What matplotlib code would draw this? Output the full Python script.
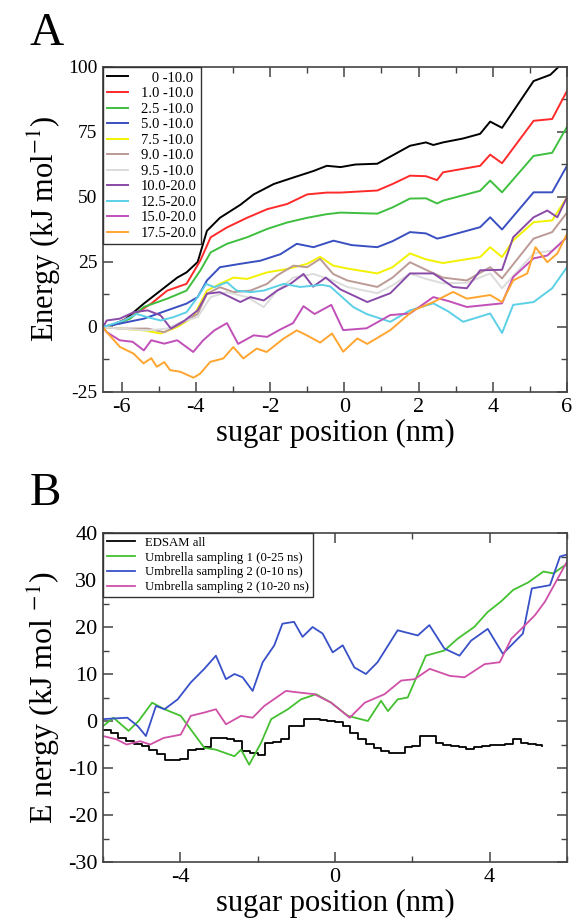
import matplotlib
matplotlib.use('Agg')
import matplotlib.pyplot as plt
from matplotlib.ticker import MultipleLocator

plt.rcParams['font.family'] = ['Liberation Serif', 'DejaVu Serif']
plt.rcParams['mathtext.fontset'] = 'stix'
plt.rcParams['axes.unicode_minus'] = False

# ---- panel A data (sugar position nm, energy kJ/mol) ----
labels_a = ['   0 -10.0', '1.0 -10.0', '2.5 -10.0', '5.0 -10.0', '7.5 -10.0', '9.0 -10.0',
            '9.5 -10.0', '10.0-20.0', '12.5-20.0', '15.0-20.0', '17.5-20.0']
colors_a = ['#000000', '#ff2a2a', '#3fbf3f', '#3a4fc0', '#f2f200', '#bc9a96',
            '#dcdcdc', '#8a4aa8', '#5cd0e6', '#c050b8', '#ffa530']

x_black = [-6.5, -6.2, -5.9, -5.77, -5.4, -4.95, -4.5, -4.25, -3.95, -3.7, -3.35, -2.8, -2.44, -1.9,
           -1.37, -0.83, -0.47, -0.1, 0.3, 0.89, 1.3, 1.77, 2.2, 2.4, 2.66, 3.2, 3.66, 3.93, 4.25,
           4.6, 5.1, 5.55, 5.74, 6.0]
e_black = [0, 1, 3, 4.5, 9, 14, 19, 21, 25, 37, 42, 47, 51, 55, 57.5, 60, 62, 61.5, 62.5, 62.8,
           66, 69.7, 71, 70, 71, 72.5, 74.3, 79, 76.6, 84, 94.6, 97, 99.6, 104]

x_red = [-6.5, -6.2, -5.77, -5.2, -4.77, -4.25, -3.88, -3.6, -3.16, -2.62, -2.08, -1.54, -1.0, -0.47,
         -0.1, 0.89, 1.3, 1.77, 2.2, 2.5, 2.66, 3.66, 3.93, 4.25, 5.1, 5.6, 6.0]
e_red = [0, 1, 3.8, 9, 14, 16.6, 25.5, 34.5, 38.3, 42, 45.3, 47.3, 51, 51.7, 51.7, 52.5, 55, 58.2,
         58, 56.5, 59.5, 62, 66.3, 63, 79.3, 80, 90.8]

x_green = [-6.5, -6.2, -5.77, -5.4, -4.77, -4.25, -3.88, -3.6, -3.16, -2.62, -2.08, -1.54, -1.0,
           -0.47, -0.1, 0.89, 1.3, 1.77, 2.2, 2.5, 2.66, 3.66, 3.93, 4.25, 5.1, 5.6, 6.0]
e_green = [0, 1, 3.2, 7.7, 10.9, 14, 21.7, 28.7, 32, 34.5, 37.7, 40.2, 42, 43.4, 44, 43.6, 46,
           49.4, 49.5, 47.5, 48.6, 52.4, 56.3, 51.8, 65.8, 67, 77]

x_blue = [-6.5, -6.05, -5.4, -4.77, -4.25, -3.95, -3.7, -3.35, -2.8, -2.26, -1.72, -1.28, -0.83,
          -0.29, 0.2, 0.89, 1.3, 1.77, 2.2, 2.5, 2.66, 3.66, 3.93, 4.25, 5.1, 5.6, 6.0]
e_blue = [0, 1.3, 3.2, 6.4, 9, 11.5, 17.9, 23, 24.3, 25.5, 28, 32, 30.7, 33.2, 31.5, 30.7, 33,
          36.5, 36, 34, 34.5, 38.4, 42.2, 37.5, 51.8, 51.8, 62]

x_yellow = [-6.5, -6.05, -5.4, -4.95, -4.5, -4.07, -3.7, -3.35, -2.98, -2.62, -2.08, -1.54, -1.0,
            -0.65, -0.3, 0.08, 0.89, 1.3, 1.77, 2.2, 2.66, 3.66, 3.93, 4.25, 4.55, 5.1, 5.6, 6.0]
e_yellow = [0, -0.6, -1.3, -2.5, 0, 3.8, 14, 16.6, 19, 18.5, 21, 22.3, 24.3, 27, 23.6, 22.5, 20.6,
            23, 28.3, 26, 24.6, 26.9, 30.7, 26.9, 33.3, 40.3, 41, 49.9]

x_brown = [-6.5, -6.05, -5.3, -4.85, -4.4, -3.95, -3.7, -3.35, -2.98, -2.53, -2.08, -1.81, -1.37,
           -1.0, -0.65, -0.3, 0.08, 0.89, 1.3, 1.77, 2.2, 2.66, 3.3, 3.93, 4.25, 5.1, 5.6, 6.0]
e_brown = [0, -0.6, -0.6, -2, 1.3, 5, 12.8, 15.3, 13.4, 14, 16.6, 19.8, 23.6, 23, 26.2, 20.4, 17.9,
           15.4, 19, 24.9, 22, 19, 17.9, 23, 18.7, 34, 36.5, 44]

x_gray = [-6.5, -6.05, -5.3, -4.77, -4.4, -3.95, -3.6, -3.16, -2.62, -2.17, -1.81, -1.37, -0.83,
          -0.3, 0.08, 0.89, 1.3, 1.77, 2.2, 2.66, 3.3, 3.93, 4.25, 5.1, 5.6, 6.0]
e_gray = [0, -0.6, -1.3, -0.6, 1.9, 3.8, 11.5, 13.4, 11.5, 7.7, 14, 19, 20.4, 17.9, 15.4, 13, 16,
          20.6, 18.5, 16.8, 17, 20.6, 14.9, 28.3, 29.4, 34.5]

x_purple = [-6.5, -6.4, -6.05, -5.67, -5.3, -4.95, -4.67, -4.3, -3.95, -3.7, -3.35, -3.07, -2.8,
            -2.53, -2.17, -1.81, -1.45, -1.1, -0.84, -0.5, -0.11, 0.62, 1.24, 1.77, 2.4, 2.93,
            3.3, 3.66, 4.25, 4.55, 5.1, 5.47, 5.74, 6.0]
e_purple = [0, 2.5, 3.2, 5.7, 6.4, 4.5, -0.6, 2.5, 6.4, 12.8, 13.4, 11.5, 9.6, 11.5, 10.2, 14,
            16.6, 20.4, 15.5, 19, 14.5, 9.6, 13, 20.6, 20.6, 15.4, 14.9, 21.8, 22, 34.5, 42.2,
            44.8, 42.2, 49.9]

x_cyan = [-6.5, -5.95, -5.6, -5.3, -4.95, -4.6, -4.25, -3.95, -3.72, -3.5, -3.16, -2.9, -2.53,
          -2.17, -1.63, -1.19, -0.6, -0.38, 0.24, 0.6, 1.24, 1.77, 2.4, 2.8, 3.2, 3.93, 4.25,
          4.55, 5.1, 5.6, 6.0]
e_cyan = [0, 2.5, 5, 3.8, 2.5, 3.8, 5.7, 11.5, 16.6, 15.3, 17.2, 14, 13.4, 14, 16.6, 15.4, 16.2,
          15.6, 7.7, 5, 2, 6.4, 9.1, 6, 2, 5.2, -2.3, 8.5, 9.6, 14.9, 23]

x_magenta = [-6.5, -6.4, -6.05, -5.7, -5.4, -5.2, -4.85, -4.5, -4.07, -3.8, -3.5, -3.16, -2.86,
             -2.44, -2.08, -1.73, -1.38, -1.1, -0.8, -0.35, -0.03, 0.6, 1.24, 1.77, 2.4, 2.8,
             3.3, 4.25, 4.55, 5.1, 5.47, 6.0]
e_magenta = [0, -2, -5.1, -5.7, -9, -5.1, -6.4, -5.1, -9.6, -5.1, -1.3, 1.5, -6.5, -3.2, -3.8,
             -1, 1.5, 8, 5, 8.5, -1.2, -0.5, 4.6, 5.2, 11.5, 10, 7.7, 9.1, 19.2, 26.4, 27.5, 34.5]

x_orange = [-6.5, -6.4, -6.04, -5.68, -5.41, -5.2, -5.05, -4.85, -4.69, -4.42, -4.06, -3.88,
            -3.61, -3.26, -2.99, -2.72, -2.36, -2.09, -1.64, -1.28, -1.01, -0.65, -0.33, -0.03,
            0.35, 0.62, 1.24, 1.86, 2.4, 2.93, 3.3, 3.93, 4.25, 4.55, 4.93, 5.15, 5.47, 5.74, 6.0]
e_orange = [0, -2, -7.7, -10.2, -14, -12, -15.3, -13.5, -16.6, -17.2, -19.5, -17.9, -13.4, -12.1,
            -7.7, -12.1, -8.3, -9.6, -4.5, -1.3, -3.2, -6, -2.5, -9.5, -4.4, -6.5, -1.2, 6.4, 9.6,
            13.5, 10.9, 12.3, 9.6, 17.9, 20.6, 30.7, 24.9, 28.3, 35.8]

xs_a = [x_black, x_red, x_green, x_blue, x_yellow, x_brown, x_gray, x_purple, x_cyan, x_magenta, x_orange]
es_a = [e_black, e_red, e_green, e_blue, e_yellow, e_brown, e_gray, e_purple, e_cyan, e_magenta, e_orange]

# ---- panel B data ----
labels_b = ['EDSAM all', 'Umbrella sampling 1 (0-25 ns)', 'Umbrella sampling 2 (0-10 ns)',
            'Umbrella sampling 2 (10-20 ns)']
colors_b = ['#000000', '#44c030', '#3850c8', '#d050a8']

x_edsam = [-6.0, -5.8, -5.6, -5.4, -5.2, -5.0, -4.8, -4.6, -4.4, -4.2, -4.0, -3.8, -3.6, -3.4,
           -3.2, -3.0, -2.8, -2.6, -2.4, -2.2, -2.0, -1.8, -1.6, -1.4, -1.2, -1.0, -0.8, -0.6,
           -0.4, -0.2, 0.0, 0.2, 0.4, 0.6, 0.8, 1.0, 1.2, 1.4, 1.6, 1.8, 2.0, 2.2, 2.4, 2.6, 2.8,
           3.0, 3.2, 3.4, 3.6, 3.8, 4.0, 4.2, 4.4, 4.6, 4.8, 5.0, 5.2, 5.35]
e_edsam = [-2.0, -2.6, -3.6, -4.3, -4.8, -5.4, -6.2, -7.0, -8.2, -8.2, -8.0, -6.2, -6.0, -5.6,
           -3.6, -3.7, -3.9, -4.2, -6.3, -6.8, -7.3, -4.6, -4.4, -3.9, -1.1, -1.1, 0.4, 0.4, 0.2,
           0.0, -0.3, -1.1, -2.6, -3.8, -4.8, -5.8, -6.4, -6.8, -6.8, -5.6, -5.4, -3.2, -3.2,
           -4.6, -5.0, -5.3, -5.6, -5.9, -5.6, -5.3, -5.1, -5.0, -4.8, -3.8, -4.6, -4.8, -5.1, -5.4]

x_us1 = [-6.0, -5.73, -5.34, -5.08, -4.73, -4.41, -3.99, -3.73, -3.38, -3.08, -2.6, -2.43, -2.22,
         -1.91, -1.65, -1.22, -0.88, -0.49, -0.1, 0.33, 0.85, 1.19, 1.37, 1.62, 1.88, 2.35, 2.83,
         3.17, 3.6, 3.95, 4.29, 4.61, 5.0, 5.39, 5.65, 5.9, 6.0]
e_us1 = [-1.1, 0.7, -2.1, 0, 3.9, 2.5, 1.1, -1.8, -5.7, -6.1, -7.5, -6.1, -9.3, -4.6, 0.4, 2.5,
         4.6, 5.7, 3.9, 1.1, 0, 4.3, 2.1, 4.6, 5, 13.9, 15, 17.5, 20, 23.2, 25.4, 27.9, 29.5,
         31.8, 31.4, 32.9, 33.2]

x_us2a = [-6.0, -5.37, -5.1, -4.89, -4.63, -4.41, -4.07, -3.73, -3.38, -3.08, -2.82, -2.6, -2.39,
          -2.13, -1.87, -1.57, -1.36, -1.06, -0.84, -0.58, -0.32, -0.06, 0.2, 0.5, 0.8, 1.1,
          1.62, 2.14, 2.44, 2.83, 3.22, 3.52, 3.95, 4.34, 4.86, 5.09, 5.56, 5.82, 6.0]
e_us2a = [0.4, 0.7, -1.1, -3.2, 3.2, 2.5, 4.6, 8.2, 11.1, 13.9, 8.9, 10, 9.3, 6.4, 12.5, 16.1,
          20.7, 21.1, 17.9, 20, 18.6, 14.6, 16.1, 11.4, 10, 12.5, 19.3, 18.2, 20.4, 15.4, 13.9,
          17.1, 19.6, 14.3, 18.6, 28.2, 28.9, 35, 35.4]

x_us2b = [-6.0, -5.65, -5.39, -5.04, -4.78, -4.43, -3.99, -3.73, -3.38, -3.08, -2.82, -2.43,
          -2.13, -1.83, -1.27, -0.97, -0.53, -0.1, 0.38, 0.77, 1.28, 1.71, 2.06, 2.45, 2.97,
          3.35, 3.87, 4.26, 4.56, 4.82, 5.17, 5.43, 6.0]
e_us2b = [-3.2, -3.9, -5, -4.3, -5, -3.6, -2.9, 1.1, 1.8, 2.5, -0.7, 1.1, 0.7, 3.2, 6.4, 6.1,
          5.7, 3.9, 0.7, 3.9, 5.7, 8.6, 8.9, 11.1, 9.6, 9.3, 12.1, 12.5, 17.5, 19.6, 22.5, 25.4,
          33.9]

xs_b = [x_edsam, x_us1, x_us2a, x_us2b]
es_b = [e_edsam, e_us1, e_us2a, e_us2b]

fig = plt.figure(figsize=(5.74, 9.19), dpi=100)
ax1 = fig.add_axes([103 / 574, 1 - 392 / 919, 464 / 574, 325 / 919])
ax2 = fig.add_axes([103 / 574, 1 - 862 / 919, 464 / 574, 329 / 919])

for x, e, c, l in zip(xs_a, es_a, colors_a, labels_a):
    ax1.plot(x, e, color=c, lw=1.4, label=l)
ax1.set_xlim(-6.5, 6)
ax1.set_ylim(-25, 100)
ax1.xaxis.set_major_locator(MultipleLocator(2))
ax1.xaxis.set_minor_locator(MultipleLocator(1))
ax1.yaxis.set_major_locator(MultipleLocator(25))
ax1.yaxis.set_minor_locator(MultipleLocator(12.5))
ax1.set_xlabel('sugar position (nm)', fontsize=22, labelpad=2)
ax1.set_ylabel('Energy (kJ mol$^{-1}$)', fontsize=22, labelpad=4)
ax1.tick_params(axis='y', labelsize=14)
ax1.tick_params(axis='x', labelsize=16)
leg1 = ax1.legend(loc='upper left', fontsize=10.5, handlelength=1.4, handletextpad=0.9,
                  labelspacing=0.16, borderaxespad=0, borderpad=0.3, fancybox=False,
                  framealpha=1, edgecolor='#333333')
leg1.get_frame().set_linewidth(1.0)

styles = ['steps-post', 'default', 'default', 'default']
for x, e, c, l, s in zip(xs_b, es_b, colors_b, labels_b, styles):
    ax2.plot(x, e, color=c, lw=1.3, label=l, drawstyle=s)
ax2.set_xlim(-6, 6)
ax2.set_ylim(-30, 40)
ax2.xaxis.set_major_locator(MultipleLocator(4))
ax2.xaxis.set_minor_locator(MultipleLocator(2))
ax2.yaxis.set_major_locator(MultipleLocator(10))
ax2.yaxis.set_minor_locator(MultipleLocator(5))
ax2.set_xlabel('sugar position (nm)', fontsize=22, labelpad=2)
ax2.set_ylabel('E nergy (kJ mol $^{-1}$)', fontsize=23, labelpad=4)
ax2.tick_params(axis='both', labelsize=16)
leg2 = ax2.legend(loc='upper left', fontsize=9.2, handlelength=2.2, handletextpad=0.8,
                  labelspacing=0.22, borderaxespad=0, borderpad=0.3, fancybox=False,
                  framealpha=1, edgecolor='#333333')
leg2.get_frame().set_linewidth(1.0)

for ax in (ax1, ax2):
    for sp in ax.spines.values():
        sp.set_color('#444444')
        sp.set_linewidth(1.2)
    ax.tick_params(which='both', direction='in', top=True, right=True, color='#444444', pad=4)
    ax.tick_params(which='major', length=7, width=1.1)
    ax.tick_params(which='minor', length=4, width=1.0)

fig.text(30 / 574, 1 - 45 / 919, 'A', fontsize=34, va='baseline')
fig.text(30 / 574, 1 - 505 / 919, 'B', fontsize=34, va='baseline')

fig.savefig('out.png', dpi=100)
